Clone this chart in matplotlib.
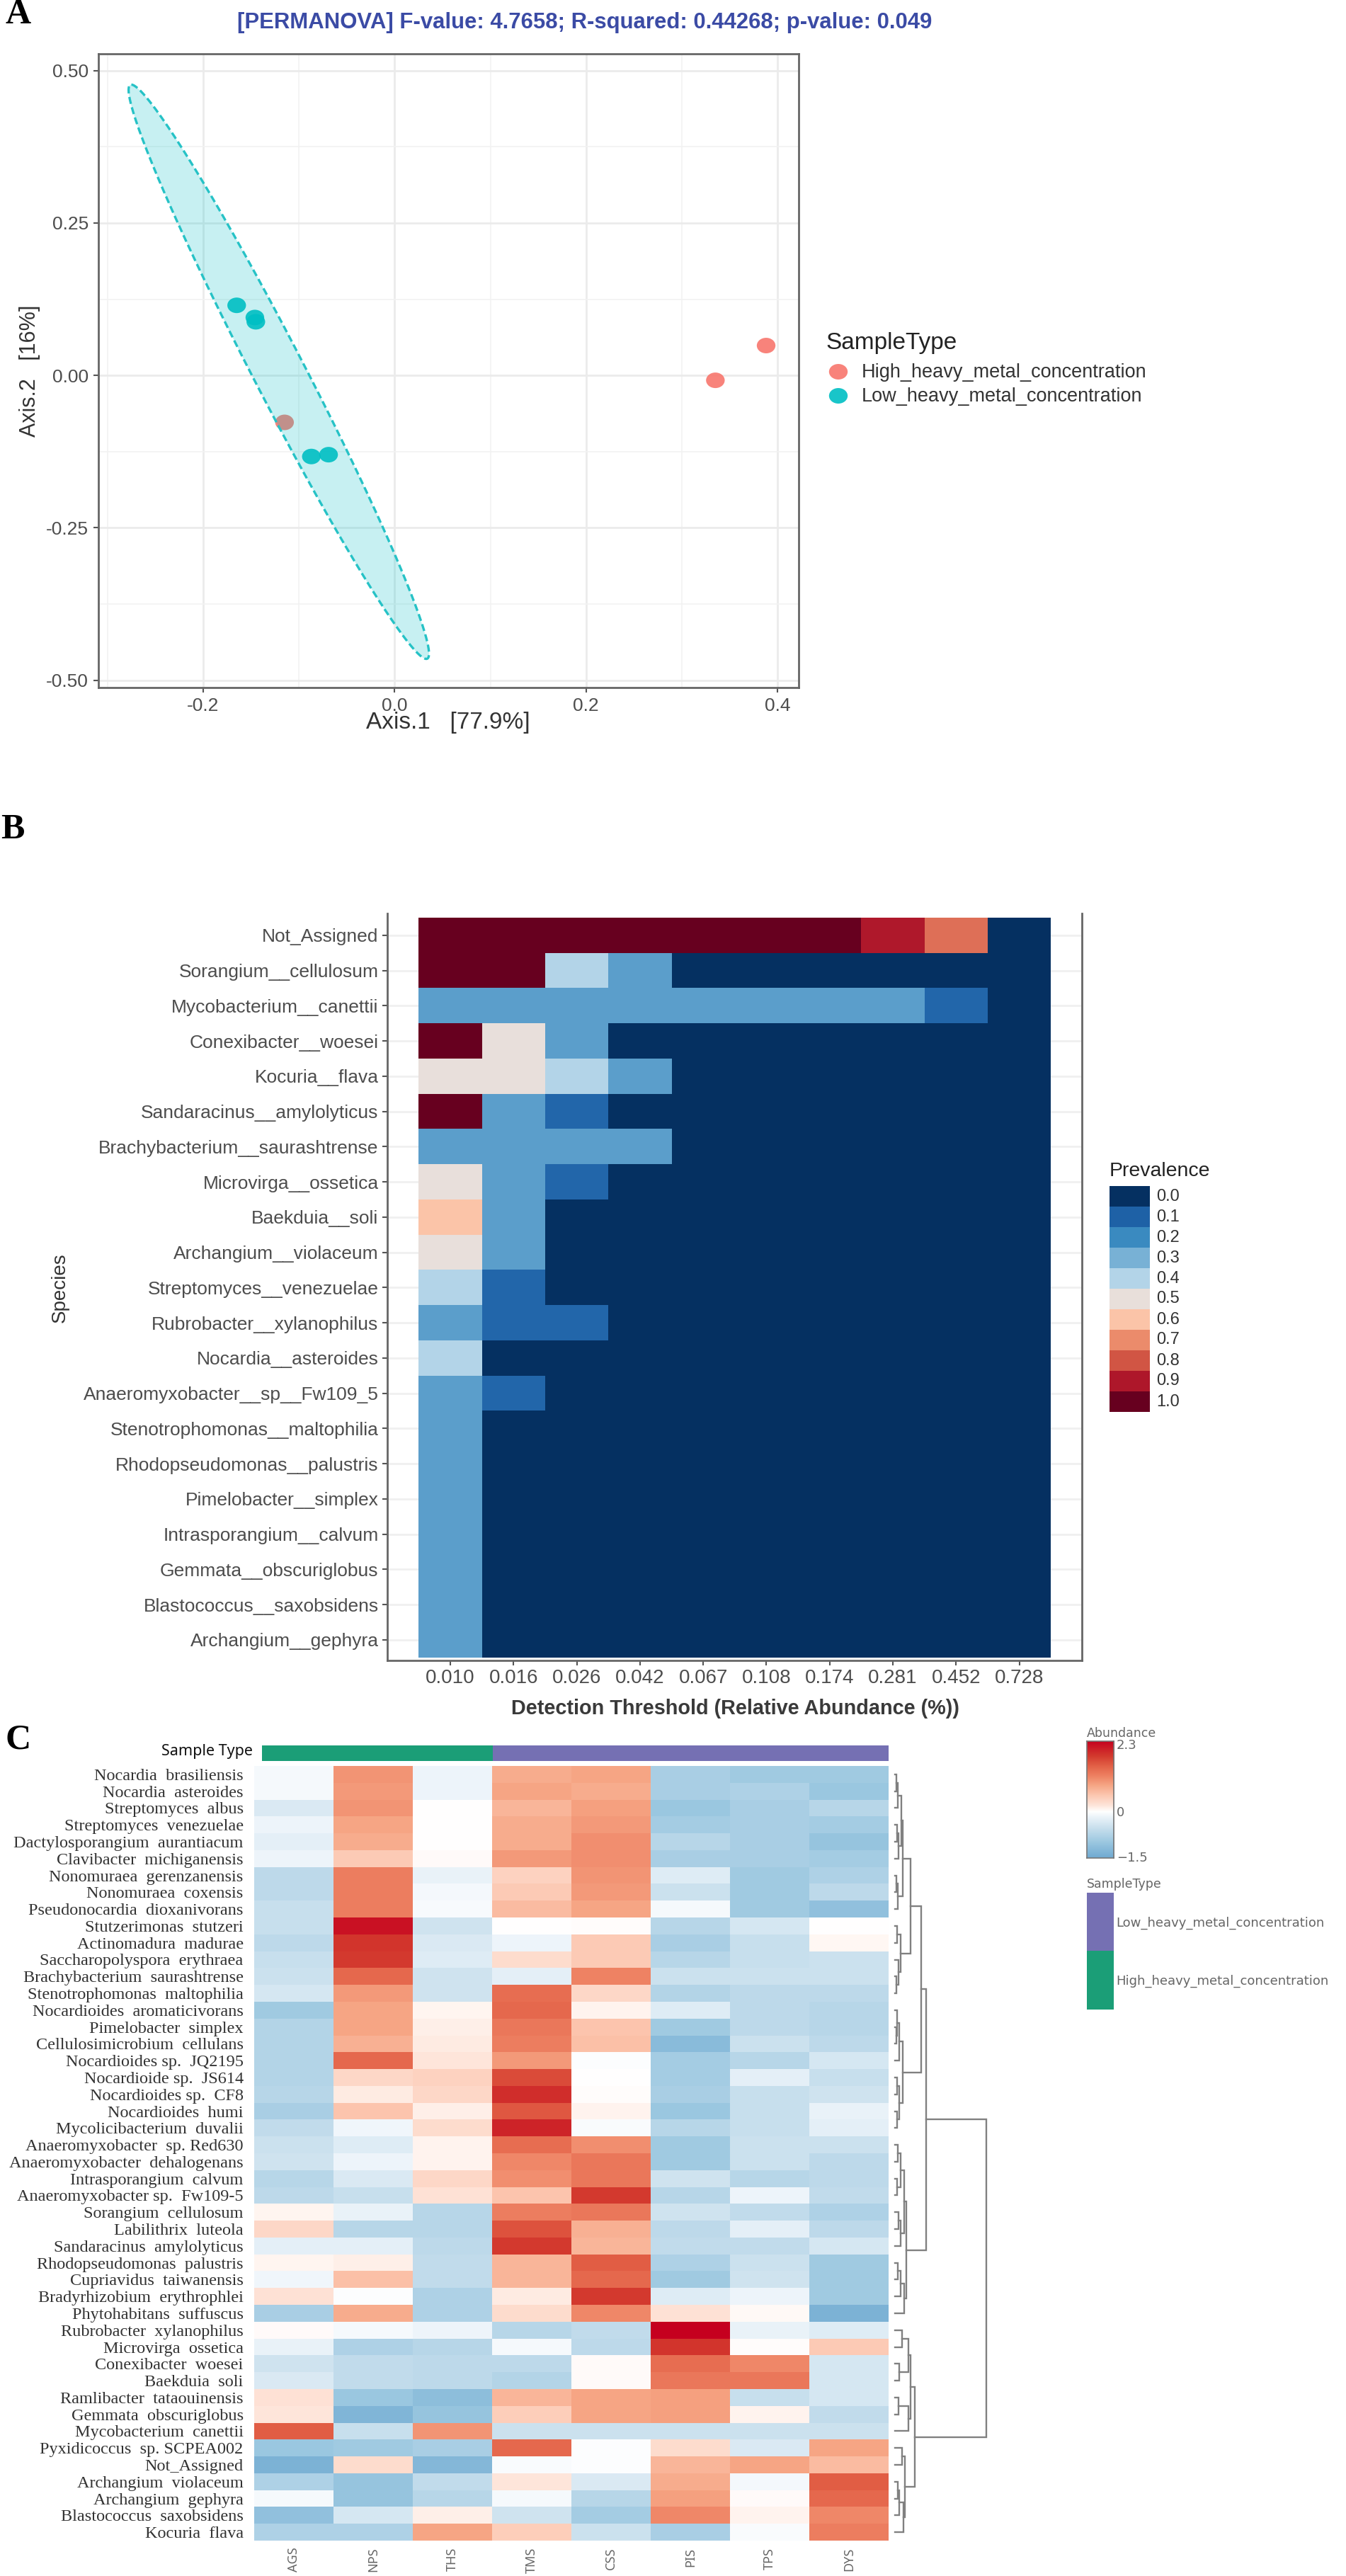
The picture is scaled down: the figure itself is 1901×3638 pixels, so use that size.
import numpy as np
import matplotlib
matplotlib.use("Agg")
import matplotlib.pyplot as plt
from matplotlib.colors import LinearSegmentedColormap, Normalize
from matplotlib.markers import MarkerStyle
from matplotlib.transforms import Affine2D

W, H = 1901, 3638
GRAY = "#4d4d4d"
SANS = "Liberation Sans"
SERIF = "Liberation Serif"

# panel A data
low_x = [-0.165, -0.146, -0.145, -0.087, -0.069]
low_y = [0.115, 0.095, 0.088, -0.133, -0.130]
high_x = [-0.115, 0.335, 0.388]
high_y = [-0.077, -0.008, 0.049]
ell_center = (-0.121, 0.006)
ell_tip = (-0.154, 0.471)
ell_side = 0.03
a_xticks = [-0.2, 0.0, 0.2, 0.4]
a_yticks = [-0.50, -0.25, 0.0, 0.25, 0.50]

# panel B data
thresholds = ["0.010", "0.016", "0.026", "0.042", "0.067", "0.108", "0.174", "0.281", "0.452", "0.728"]
core_species = ["Not_Assigned", "Sorangium__cellulosum", "Mycobacterium__canettii", "Conexibacter__woesei",
                "Kocuria__flava", "Sandaracinus__amylolyticus", "Brachybacterium__saurashtrense",
                "Microvirga__ossetica", "Baekduia__soli", "Archangium__violaceum", "Streptomyces__venezuelae",
                "Rubrobacter__xylanophilus", "Nocardia__asteroides", "Anaeromyxobacter__sp__Fw109_5",
                "Stenotrophomonas__maltophilia", "Rhodopseudomonas__palustris", "Pimelobacter__simplex",
                "Intrasporangium__calvum", "Gemmata__obscuriglobus", "Blastococcus__saxobsidens",
                "Archangium__gephyra"]
prevalence = [
    [1, 1, 1, 1, 1, 1, 1, .9, .75, 0],
    [1, 1, .4, .25, 0, 0, 0, 0, 0, 0],
    [.25, .25, .25, .25, .25, .25, .25, .25, .11, 0],
    [1, .5, .25, 0, 0, 0, 0, 0, 0, 0],
    [.5, .5, .4, .25, 0, 0, 0, 0, 0, 0],
    [1, .25, .11, 0, 0, 0, 0, 0, 0, 0],
    [.25, .25, .25, .25, 0, 0, 0, 0, 0, 0],
    [.5, .25, .11, 0, 0, 0, 0, 0, 0, 0],
    [.6, .25, 0, 0, 0, 0, 0, 0, 0, 0],
    [.5, .25, 0, 0, 0, 0, 0, 0, 0, 0],
    [.4, .11, 0, 0, 0, 0, 0, 0, 0, 0],
    [.25, .11, .11, 0, 0, 0, 0, 0, 0, 0],
    [.4, 0, 0, 0, 0, 0, 0, 0, 0, 0],
    [.25, .11, 0, 0, 0, 0, 0, 0, 0, 0],
    [.25, 0, 0, 0, 0, 0, 0, 0, 0, 0],
    [.25, 0, 0, 0, 0, 0, 0, 0, 0, 0],
    [.25, 0, 0, 0, 0, 0, 0, 0, 0, 0],
    [.25, 0, 0, 0, 0, 0, 0, 0, 0, 0],
    [.25, 0, 0, 0, 0, 0, 0, 0, 0, 0],
    [.25, 0, 0, 0, 0, 0, 0, 0, 0, 0],
    [.25, 0, 0, 0, 0, 0, 0, 0, 0, 0],
]
prev_levels = [0.0, 0.1, 0.2, 0.3, 0.4, 0.5, 0.6, 0.7, 0.8, 0.9, 1.0]
prev_colors = ["#053061", "#1F62A8", "#3A8AC0", "#7AB2D6", "#B3D4E8", "#E8E0DC",
               "#FBC4A8", "#EC8D6C", "#D15544", "#B0182B", "#67001F"]

# panel C data
samples = ["AGS", "NPS", "THS", "TMS", "CSS", "PIS", "TPS", "DYS"]
heat_species = ["Nocardia  brasiliensis", "Nocardia  asteroides", "Streptomyces  albus", "Streptomyces  venezuelae",
                "Dactylosporangium  aurantiacum", "Clavibacter  michiganensis", "Nonomuraea  gerenzanensis",
                "Nonomuraea  coxensis", "Pseudonocardia  dioxanivorans", "Stutzerimonas  stutzeri",
                "Actinomadura  madurae", "Saccharopolyspora  erythraea", "Brachybacterium  saurashtrense",
                "Stenotrophomonas  maltophilia", "Nocardioides  aromaticivorans", "Pimelobacter  simplex",
                "Cellulosimicrobium  cellulans", "Nocardioides sp.  JQ2195", "Nocardioide sp.  JS614",
                "Nocardioides sp.  CF8", "Nocardioides  humi", "Mycolicibacterium  duvalii",
                "Anaeromyxobacter  sp. Red630", "Anaeromyxobacter  dehalogenans", "Intrasporangium  calvum",
                "Anaeromyxobacter sp.  Fw109-5", "Sorangium  cellulosum", "Labilithrix  luteola",
                "Sandaracinus  amylolyticus", "Rhodopseudomonas  palustris", "Cupriavidus  taiwanensis",
                "Bradyrhizobium  erythrophlei", "Phytohabitans  suffuscus", "Rubrobacter  xylanophilus",
                "Microvirga  ossetica", "Conexibacter  woesei", "Baekduia  soli", "Ramlibacter  tataouinensis",
                "Gemmata  obscuriglobus", "Mycobacterium  canettii", "Pyxidicoccus  sp. SCPEA002", "Not_Assigned",
                "Archangium  violaceum", "Archangium  gephyra", "Blastococcus  saxobsidens", "Kocuria  flava"]
abundance = [
    [-.08, 1.0, -.15, .8, .85, -.85, -.95, -.95],
    [-.08, .95, -.15, .85, .8, -.85, -.8, -1.0],
    [-.35, 1.0, 0, .7, .9, -1.0, -.85, -.7],
    [-.15, .85, 0, .8, .95, -.9, -.85, -.9],
    [-.25, .8, 0, .8, 1.05, -.7, -.85, -1.05],
    [-.15, .5, .03, .95, 1.05, -.85, -.85, -.9],
    [-.65, 1.2, -.2, .4, 1.0, -.3, -.95, -.8],
    [-.65, 1.2, -.1, .5, .95, -.5, -.95, -.65],
    [-.55, 1.2, -.07, .65, .85, -.08, -.95, -1.1],
    [-.55, 2.15, -.45, 0, .02, -.7, -.4, 0],
    [-.65, 1.85, -.35, -.15, .5, -.85, -.55, .06],
    [-.55, 1.8, -.3, .3, .5, -.7, -.55, -.5],
    [-.5, 1.4, -.45, -.25, 1.15, -.5, -.5, -.5],
    [-.4, .95, -.45, 1.35, .35, -.75, -.65, -.65],
    [-.95, .85, .08, 1.4, .1, -.3, -.65, -.7],
    [-.75, .85, .12, 1.25, .55, -.95, -.65, -.7],
    [-.75, .75, .15, 1.2, .6, -1.2, -.5, -.65],
    [-.75, 1.4, .2, .95, -.02, -.9, -.7, -.4],
    [-.75, .35, .4, 1.65, 0, -.9, -.25, -.55],
    [-.7, .15, .35, 1.9, .02, -.85, -.55, -.45],
    [-.85, .55, .12, 1.55, .1, -1.0, -.55, -.2],
    [-.6, -.12, .3, 2.0, -.05, -.7, -.55, -.25],
    [-.5, -.3, .1, 1.35, 1.05, -.95, -.5, -.5],
    [-.45, -.15, .1, 1.1, 1.25, -.95, -.5, -.65],
    [-.7, -.35, .35, 1.05, 1.25, -.45, -.7, -.65],
    [-.65, -.55, .25, .55, 1.8, -.7, -.15, -.6],
    [.08, -.2, -.7, 1.2, 1.25, -.45, -.6, -.8],
    [.35, -.7, -.7, 1.6, .75, -.65, -.25, -.65],
    [-.25, -.25, -.65, 1.8, .7, -.6, -.6, -.4],
    [.08, .13, -.6, .7, 1.5, -.8, -.5, -.95],
    [-.12, .6, -.6, .7, 1.4, -.95, -.45, -.95],
    [.25, -.02, -.8, .15, 1.8, -.3, -.15, -.95],
    [-.85, .8, -.8, .3, 1.1, .25, .05, -1.35],
    [.04, -.08, -.15, -.7, -.6, 2.3, -.2, -.3],
    [-.2, -.8, -.7, -.08, -.65, 1.85, .02, .5],
    [-.45, -.6, -.65, -.65, .03, 1.35, 1.1, -.4],
    [-.35, -.6, -.65, -.75, .03, 1.25, 1.25, -.4],
    [.25, -1.0, -1.15, .7, .85, .9, -.55, -.4],
    [.2, -1.3, -1.05, .45, .85, .9, .1, -.6],
    [1.5, -.55, 1.0, -.5, -.5, -.5, -.5, -.5],
    [-1.0, -.95, -.85, 1.4, -.02, .3, -.35, .85],
    [-1.35, .3, -1.25, -.06, -.03, .7, .85, .65],
    [-.8, -1.05, -.6, .2, -.35, .8, -.1, 1.5],
    [-.08, -1.05, -.7, -.08, -.7, .9, .04, 1.4],
    [-1.1, -.4, .12, -.45, -.9, 1.1, .1, 1.1],
    [-.8, -.8, .85, .45, -.5, -.85, -.05, 1.2],
]
abund_stops = [-1.5, -1.0, -.5, -.15, 0, .2, .55, .85, 1.15, 1.45, 1.8, 2.3]
abund_colors = ["#6FA9D1", "#9BC7E0", "#CBE1EE", "#EEF5FA", "#FFFFFF", "#FEE5DA",
                "#FCC5AE", "#F6A685", "#EE8263", "#E46449", "#D33A2E", "#C5001F"]

# row clustering: (merge height, upper child, lower child), ints are rows
rows_0_8 = (11, (9, (4, (2, 0, 1), 2), (5, (3, 3, 4), 5)), (4, (2, 6, 7), 8))
rows_9_13 = (8, (3, 9, 10), (5, 11, (2.5, 12, 13)))
rows_14_21 = (11.5, (6, (3, 14, (2, 15, 16)), 17), (6, (3, 18, 19), (3, 20, 21)))
rows_22_28 = (13, (8, (4, 22, 23), (3, 24, 25)), (8, (5, 26, 27), 28))
rows_29_32 = (13, (8, (4, 29, 30), 31), 32)
rows_33_39 = (22, (19, (10, 33, 34), (6, 35, 36)), (19, (5, 37, 38), 39))
rows_40_45 = (14, (10, 40, 41), (12, (6, (4, 42, 43), 44), 45))
upper_tree = (44.6, (37, (22, rows_0_8, rows_9_13), rows_14_21), (16.6, rows_22_28, rows_29_32))
lower_tree = (28.7, rows_33_39, rows_40_45)
row_tree = (129, upper_tree, lower_tree)


def axes_px(left, top, right, bottom):
    return fig.add_axes([left / W, 1 - bottom / H, (right - left) / W, (bottom - top) / H])


def label_px(x, y, s, **kw):
    kw.setdefault("family", SANS)
    kw.setdefault("va", "center")
    fig.text(x / W, 1 - y / H, s, **kw)


def draw_tree(ax, node):
    if not isinstance(node, tuple):
        return 0, node + 0.5
    h, up, down = node
    h1, y1 = draw_tree(ax, up)
    h2, y2 = draw_tree(ax, down)
    ax.plot([h1, h, h, h2], [y1, y1, y2, y2], color="#808080", lw=1.7, solid_joinstyle="miter")
    return h, (y1 + y2) / 2


fig = plt.figure(figsize=(W / 100, H / 100), dpi=100)

# letters
label_px(8, 21, "A", family=SERIF, fontsize=36, fontweight="bold", color="black")
label_px(1, 1172, "B", family=SERIF, fontsize=36, fontweight="bold", color="black")
label_px(8, 2458, "C", family=SERIF, fontsize=36, fontweight="bold", color="black")

# panel A: PCoA
ax = axes_px(139, 76.5, 1128, 971)
ax.set_xlim(-0.3094, 0.422)
ax.set_ylim(-0.512, 0.527)
ax.set_axisbelow(True)
ax.set_xticks(a_xticks)
ax.set_xticklabels(["-0.2", "0.0", "0.2", "0.4"], fontsize=19, family=SANS, color=GRAY)
ax.set_yticks(a_yticks)
ax.set_yticklabels(["-0.50", "-0.25", "0.00", "0.25", "0.50"], fontsize=19, family=SANS, color=GRAY)
ax.set_xticks([-0.3, -0.1, 0.1, 0.3], minor=True)
ax.set_yticks([-0.375, -0.125, 0.125, 0.375], minor=True)
ax.grid(True, which="major", color="#ebebeb", lw=2)
ax.grid(True, which="minor", color="#f2f2f2", lw=1.2)
ax.tick_params(which="minor", length=0)
ax.tick_params(which="major", length=5, width=1.5, color="#555555", pad=5)
for s in ax.spines.values():
    s.set_color("#666666")
    s.set_linewidth(2)
dot = MarkerStyle("o", transform=Affine2D().scale(1.2, 1))
ax.scatter(high_x, high_y, s=250, marker=dot, color="#F8766D", edgecolors="none", alpha=0.9, zorder=3)
ax.scatter(low_x, low_y, s=250, marker=dot, color="#00BFC4", edgecolors="none", alpha=0.9, zorder=3)
t = np.linspace(0, 2 * np.pi, 300)
ell_x = ell_center[0] + np.cos(t) * ell_tip[0] + np.sin(t) * ell_side
ell_y = ell_center[1] + np.cos(t) * ell_tip[1]
ax.fill(ell_x, ell_y, color="#00BFC4", alpha=0.22, lw=0, zorder=4)
ax.plot(ell_x, ell_y, color="#26C2C6", lw=2.4, ls=(0, (3, 1.5)), zorder=5)

label_px(826, 32, "[PERMANOVA] F-value: 4.7658; R-squared: 0.44268; p-value: 0.049",
         ha="center", fontsize=22.4, fontweight="bold", color="#3B4BA5")
label_px(633, 1021, "Axis.1   [77.9%]", ha="center", fontsize=24, color="#333333")
label_px(42, 524, "Axis.2   [16%]", ha="center", rotation=90, fontsize=22, color="#333333")
label_px(1166, 485, "SampleType", fontsize=24, color="#222222")
label_px(1217, 526, "High_heavy_metal_concentration", fontsize=19.5, color="#333333")
label_px(1217, 560, "Low_heavy_metal_concentration", fontsize=19.5, color="#333333")
lg = axes_px(1166, 510, 1204, 575)
lg.set_xlim(1166, 1204)
lg.set_ylim(575, 510)
lg.axis("off")
lg.scatter([1184], [525], s=250, marker=dot, color="#F8766D", edgecolors="none", alpha=0.9)
lg.scatter([1184], [559], s=250, marker=dot, color="#00BFC4", edgecolors="none", alpha=0.9)

# panel B: core microbiome
cmap_b = LinearSegmentedColormap.from_list("prev", list(zip(prev_levels, prev_colors)))
ax = axes_px(547, 1290, 1528, 2344.6)
ax.set_xlim(-0.997, 9.99)
ax.set_ylim(20.58, -0.62)
ax.pcolormesh(np.arange(11) - 0.5, np.arange(22) - 0.5, np.array(prevalence), cmap=cmap_b, vmin=0, vmax=1, zorder=2)
ax.set_xticks(range(10))
ax.set_xticklabels(thresholds, fontsize=20, family=SANS, color=GRAY)
ax.set_yticks(range(21))
ax.set_yticklabels(core_species, fontsize=19, family=SANS, color=GRAY)
ax.grid(True, axis="y", color="#f0f0f0", lw=2)
ax.tick_params(length=5, width=1.5, color="#555555", pad=4)
ax.spines["top"].set_visible(False)
for n in ["left", "right", "bottom"]:
    ax.spines[n].set_color("#666666")
    ax.spines[n].set_linewidth(2)
label_px(1039, 2413, "Detection Threshold (Relative Abundance (%))", ha="center", fontsize=20.8,
         fontweight="bold", color="#3a3a3a")
label_px(85, 1819, "Species", ha="center", rotation=90, fontsize=20, color="#333333")
label_px(1567, 1654, "Prevalence", fontsize=20.5, color="#222222")
lg = axes_px(1567, 1675, 1624, 1994)
lg.imshow(np.array(prev_levels)[:, None], cmap=cmap_b, vmin=0, vmax=1, aspect="auto")
lg.axis("off")
for i, v in enumerate(prev_levels):
    label_px(1633, 1675 + (i + 0.5) * 319 / 11, "%.1f" % v, fontsize=17, color="#333333")

# panel C: heatmap
cmap_c = LinearSegmentedColormap.from_list(
    "abund", [((v + 1.5) / 3.8, c) for v, c in zip(abund_stops, abund_colors)])
norm_c = Normalize(-1.5, 2.3)
ax = axes_px(359, 2494, 1255, 3588)
ax.pcolormesh(np.arange(9), np.arange(47), np.array(abundance), cmap=cmap_c, norm=norm_c)
ax.set_ylim(46, 0)
ax.set_xticks(np.arange(8) + 0.5)
ax.set_xticklabels(samples, rotation=90, fontsize=13, family="Noto Sans", color="#666666")
ax.set_yticks(np.arange(46) + 0.5)
ax.set_yticklabels(heat_species, fontsize=17.5, family=SERIF, color="#333333")
ax.tick_params(length=0)
ax.tick_params(axis="x", pad=7)
ax.tick_params(axis="y", pad=11)
for s in ax.spines.values():
    s.set_visible(False)

bar = axes_px(370, 2465, 1255, 2486.6)
bar.set_xlim(370, 1255)
bar.barh([0], [326], left=[370], height=1, color="#1B9E77")
bar.barh([0], [559], left=[696], height=1, color="#7570B3")
bar.set_ylim(-0.5, 0.5)
bar.axis("off")
label_px(357, 2473, "Sample Type", ha="right", family="Noto Sans", fontsize=15.5, fontweight="bold", color="#111111")

den = axes_px(1259, 2494, 1400, 3588)
den.set_xlim(-4.5, 136.5)
den.set_ylim(46, 0)
den.axis("off")
draw_tree(den, row_tree)

label_px(1534.6, 2448, "Abundance", family="DejaVu Sans", fontsize=12.5, color="#666666")
cb = axes_px(1534.6, 2459, 1573, 2624.5)
cb.imshow(np.linspace(2.3, -1.5, 256)[:, None], cmap=cmap_c, norm=norm_c, aspect="auto")
cb.set_xticks([])
cb.set_yticks([])
for s in cb.spines.values():
    s.set_color("#777777")
    s.set_linewidth(1.2)
label_px(1577, 2465, "2.3", family="DejaVu Sans", fontsize=13, color="#666666")
label_px(1577, 2560, "0", family="DejaVu Sans", fontsize=13, color="#666666")
label_px(1577, 2624, "\u22121.5", family="DejaVu Sans", fontsize=13, color="#666666")

label_px(1534.6, 2660.7, "SampleType", family="DejaVu Sans", fontsize=12.5, color="#666666")
st = axes_px(1534.6, 2673, 1573, 2837.5)
st.barh([0, 1], [1, 1], left=0, height=1, color=["#7570B3", "#1B9E77"])
st.set_xlim(0, 1)
st.set_ylim(1.5, -0.5)
st.axis("off")
label_px(1576, 2715.6, "Low_heavy_metal_concentration", family="DejaVu Sans", fontsize=13, color="#666666")
label_px(1576, 2798, "High_heavy_metal_concentration", family="DejaVu Sans", fontsize=13, color="#666666")

fig.savefig("out.png", dpi=100)
